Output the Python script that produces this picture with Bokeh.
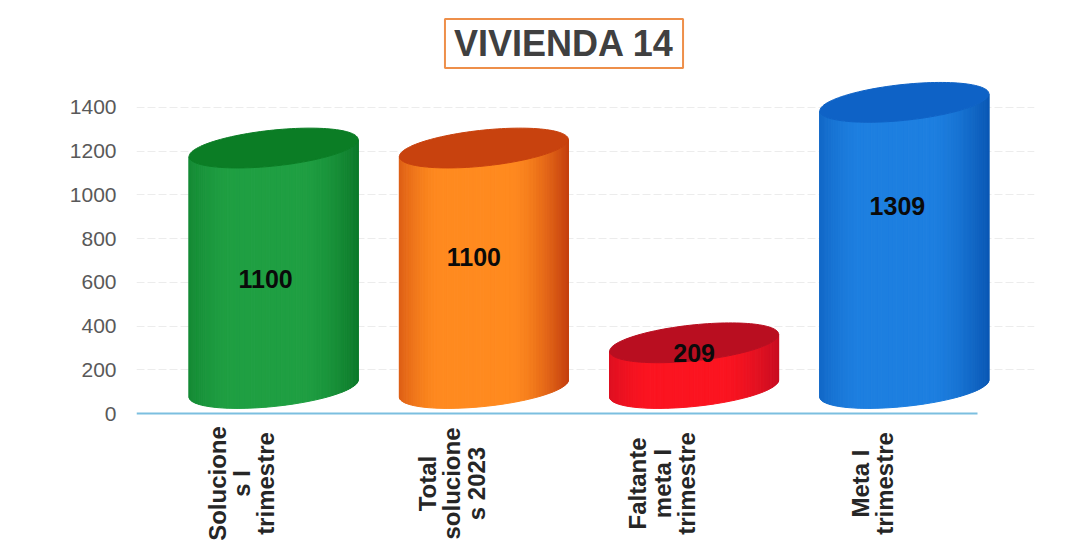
import numpy as np
from bokeh.plotting import figure
from bokeh.embed import file_html
from bokeh.resources import INLINE
from bokeh.core.properties import value
from bokeh.models import Range1d, FixedTicker, Label, ColumnDataSource

categories = ["Solucione\ns I\ntrimestre", "Total\nsolucione\ns 2023", "Faltante\nmeta I\ntrimestre", "Meta I\ntrimestre"]
values = [1100, 1100, 209, 1309]
y_ticks = [0, 200, 400, 600, 800, 1000, 1200, 1400]
title_text = "VIVIENDA 14"

edge_colors = ["#0d7a2b", "#c5400f", "#c90d22", "#0a58b5"]
mid_colors = ["#1f9f42", "#ff8a1f", "#fb1420", "#1d7fe0"]
top_colors = ["#0b7d25", "#c8420e", "#b90e20", "#0e62c6"]
label_shift_px = [(-8, -11), (-10, 11), (0, 13), (-7, 39)]

PX_PER_CAT = 210.25
PX_PER_UNIT = 0.2186
DX = 32 / PX_PER_CAT
DY = 25 / PX_PER_UNIT
A = 84.5 / PX_PER_CAT
B = 18 / PX_PER_UNIT
K = 8.5 / PX_PER_UNIT

p = figure(width=1058, height=542, output_backend="svg", toolbar_location=None,
           x_range=Range1d(0.5, 0.5 + 898 / PX_PER_CAT),
           y_range=Range1d(-128 / PX_PER_UNIT, 403 / PX_PER_UNIT),
           min_border_left=136, min_border_right=24, min_border_top=10, min_border_bottom=1,
           background_fill_color="white", border_fill_color="white")
p.outline_line_color = None

p.add_layout(Label(x=0.5 + 427.5 / PX_PER_CAT, y=370 / PX_PER_UNIT, text=title_text,
                   text_font="Liberation Sans", text_font_size="36px", text_font_style="bold",
                   text_color="#404040", text_align="center", text_baseline="middle",
                   padding=(9, 4), border_line_color="#ee8f4a", border_line_width=2,
                   background_fill_color="white"))

p.xgrid.visible = False
p.ygrid.ticker = FixedTicker(ticks=y_ticks[1:])
p.ygrid.grid_line_color = "#ececec"
p.ygrid.grid_line_dash = "8 3"

ax = p.yaxis[0]
ax.ticker = FixedTicker(ticks=y_ticks)
ax.axis_line_color = None
ax.major_tick_line_color = None
ax.minor_tick_line_color = None
ax.major_label_standoff = 14
ax.major_label_text_font = "Liberation Sans"
ax.major_label_text_font_size = "21px"
ax.major_label_text_color = "#595959"

p.xaxis.visible = False


def hex2rgb(h):
    return np.array([int(h[i:i + 2], 16) for i in (1, 3, 5)], dtype=float)


def shade(u, edge, mid):
    w = np.clip(1 - abs(u - 0.45) / 0.55, 0, 1)
    w = np.sin(min(1.0, w * 1.5) * np.pi / 2)
    c = hex2rgb(edge) * (1 - w) + hex2rgb(mid) * w
    return "#%02x%02x%02x" % tuple(int(round(v)) for v in c)


ts = np.linspace(np.pi, 0, 71)
sx, sy, sc = [], [], []
tx, ty, tc = [], [], []
for i, v in enumerate(values):
    cx = i + 1 + DX
    for t0, t1 in zip(ts[:-1], ts[1:]):
        x0, x1 = cx + A * np.cos(t0), cx + A * np.cos(t1)
        b0 = DY + K * np.cos(t0) - B * np.sin(t0)
        b1 = DY + K * np.cos(t1) - B * np.sin(t1)
        sx.append([x0, x1, x1, x0])
        sy.append([b0, b1, b1 + v, b0 + v])
        sc.append(shade((1 + np.cos((t0 + t1) / 2)) / 2, edge_colors[i], mid_colors[i]))
    tt = np.linspace(0, 2 * np.pi, 121)
    tx.append(list(cx + A * np.cos(tt)))
    ty.append(list(DY + v + K * np.cos(tt) - B * np.sin(tt)))
    tc.append(top_colors[i])

p.patches(sx, sy, fill_color=sc, line_color=sc, line_width=1)
p.patches(tx, ty, fill_color=tc, line_color=tc, line_width=1)

p.segment(x0=[0.5], y0=[0], x1=[4.5], y1=[0], line_color="#7cbfe0", line_width=2)

lab = ColumnDataSource(dict(
    x=[i + 1 + DX + label_shift_px[i][0] / PX_PER_CAT for i in range(4)],
    y=[v / 2 + DY + label_shift_px[i][1] / PX_PER_UNIT for i, v in enumerate(values)],
    t=[str(v) for v in values]))
p.text("x", "y", text="t", source=lab, text_font=value("Liberation Sans"), text_font_size="25px",
       text_font_style="bold", text_color="#0a0a0a", text_align="center", text_baseline="middle")

cat = ColumnDataSource(dict(x=[1, 2, 3, 4], y=[-70 / PX_PER_UNIT] * 4, t=categories))
p.text("x", "y", text="t", source=cat, angle=np.pi / 2, text_font=value("Liberation Sans"),
       text_font_size="24px", text_font_style="bold", text_color="#262626",
       text_align="center", text_baseline="middle", text_line_height=0.9)

open("out.html", "w").write(file_html(p, INLINE))
